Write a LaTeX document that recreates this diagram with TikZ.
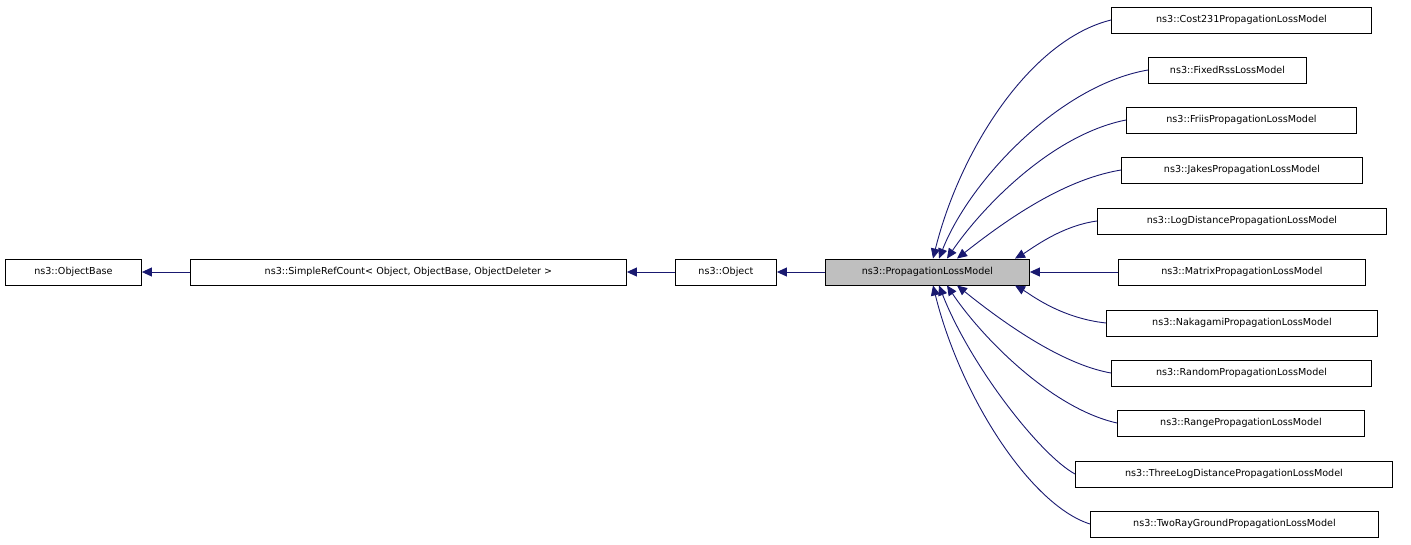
\documentclass[tikz,border=0pt]{standalone}
\usepackage{fontspec}
\setmainfont{DejaVu Sans}
\usetikzlibrary{arrows.meta,calc}
\begin{document}
\begin{tikzpicture}[x=1pt,y=-1pt,
  box/.style={draw=black,line width=0.9pt,minimum height=26pt,inner sep=0pt,font=\fontsize{9.6}{11}\selectfont,anchor=west},
  edge/.style={draw=navy,line width=0.9pt,-{Triangle[length=10pt,width=9pt]}}]
\definecolor{navy}{HTML}{191970}
\useasboundingbox (0,0) rectangle (1411,544);
\node[box,minimum width=136pt] (ob) at (5,272) {ns3::ObjectBase};
\node[box,minimum width=436pt] (src) at (190,272) {ns3::SimpleRefCount< Object, ObjectBase, ObjectDeleter >};
\node[box,minimum width=101pt] (obj) at (675,272) {ns3::Object};
\node[box,minimum width=204pt,fill=gray!50] (plm) at (825,272) {ns3::PropagationLossModel};
\node[box,minimum width=260pt] (c1) at (1111,20) {ns3::Cost231PropagationLossModel};
\node[box,minimum width=158pt] (c2) at (1148,70) {ns3::FixedRssLossModel};
\node[box,minimum width=230pt] (c3) at (1126,120) {ns3::FriisPropagationLossModel};
\node[box,minimum width=241pt] (c4) at (1121,170) {ns3::JakesPropagationLossModel};
\node[box,minimum width=289pt] (c5) at (1097,221) {ns3::LogDistancePropagationLossModel};
\node[box,minimum width=247pt] (c6) at (1118,272) {ns3::MatrixPropagationLossModel};
\node[box,minimum width=271pt] (c7) at (1106,323) {ns3::NakagamiPropagationLossModel};
\node[box,minimum width=260pt] (c8) at (1111,373) {ns3::RandomPropagationLossModel};
\node[box,minimum width=247pt] (c9) at (1117,423) {ns3::RangePropagationLossModel};
\node[box,minimum width=317pt] (c10) at (1075,474) {ns3::ThreeLogDistancePropagationLossModel};
\node[box,minimum width=288pt] (c11) at (1090,524) {ns3::TwoRayGroundPropagationLossModel};
\draw[edge] (src.west) -- (ob.east);
\draw[edge] (obj.west) -- (src.east);
\draw[edge] (plm.west) -- (obj.east);
\draw[edge] (c6.west) -- (plm.east);
\draw[edge] (c1.west) .. controls (1030,40) and (960,150) .. ($(plm.north west)+(108,0)$);
\draw[edge] (c2.west) .. controls (1060,85) and (970,180) .. ($(plm.north west)+(114,0)$);
\draw[edge] (c3.west) .. controls (1050,135) and (980,210) .. ($(plm.north west)+(122,0)$);
\draw[edge] (c4.west) .. controls (1060,180) and (1000,225) .. ($(plm.north west)+(132,0)$);
\draw[edge] (c5.west) .. controls (1060,226) and (1030,250) .. ($(plm.north west)+(190,0)$);
\draw[edge] (c7.west) .. controls (1060,318) and (1030,294) .. ($(plm.south west)+(190,0)$);
\draw[edge] (c8.west) .. controls (1060,364) and (1000,320) .. ($(plm.south west)+(132,0)$);
\draw[edge] (c9.west) .. controls (1050,408) and (980,335) .. ($(plm.south west)+(122,0)$);
\draw[edge] (c10.west) .. controls (1040,455) and (970,365) .. ($(plm.south west)+(114,0)$);
\draw[edge] (c11.west) .. controls (1030,505) and (960,395) .. ($(plm.south west)+(108,0)$);
\end{tikzpicture}
\end{document}
